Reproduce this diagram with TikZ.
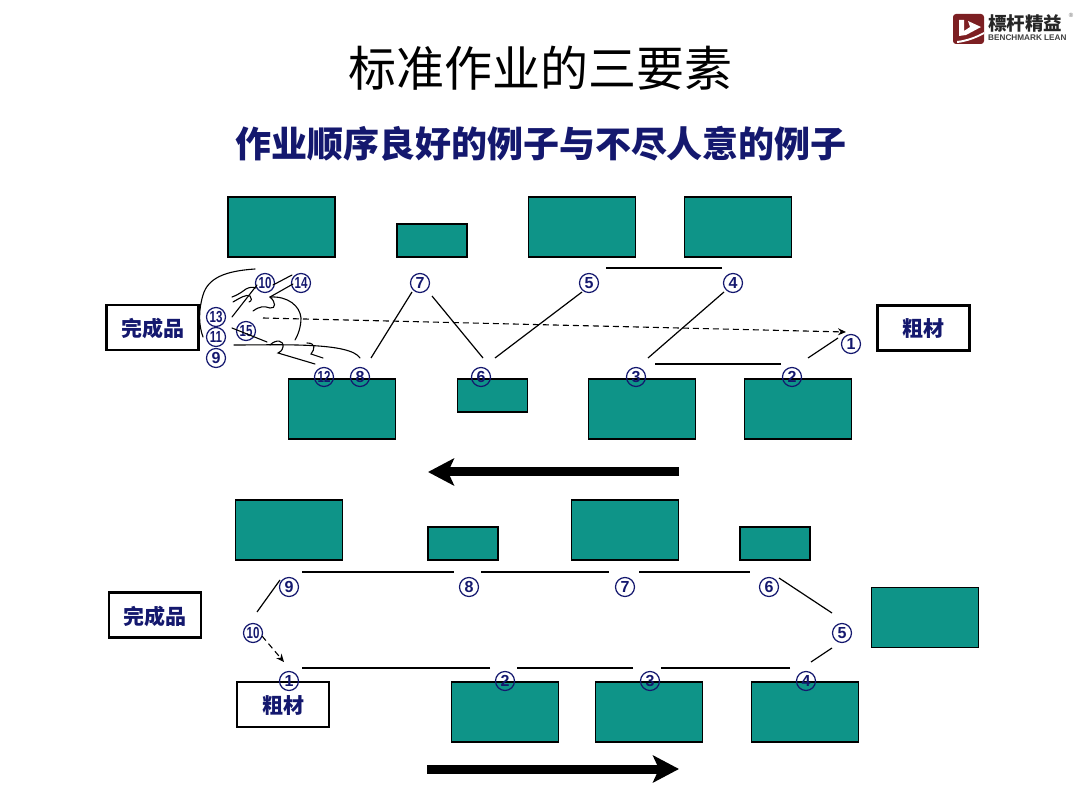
\documentclass[tikz,border=0pt]{standalone}
\usepackage{fontspec}
\setmainfont{Liberation Sans}
\newfontfamily\cjk{Noto Sans CJK SC}
\usetikzlibrary{arrows.meta}
\definecolor{tealbox}{HTML}{0E9488}
\definecolor{navyink}{HTML}{14186E}
\definecolor{logored}{HTML}{7C1F22}
\tikzset{
 bigbox/.style={draw=black,line width=1.5pt,fill=tealbox,minimum width=107pt,minimum height=60pt,inner sep=0pt},
 smallbox/.style={draw=black,line width=1.5pt,fill=tealbox,minimum width=70pt,minimum height=33pt,inner sep=0pt},
 label box/.style={draw=black,line width=2.2pt,fill=white,minimum width=92pt,minimum height=45pt,inner sep=0pt,text=navyink,font=\cjk\bfseries\fontsize{21}{23}\selectfont},
 num/.style={circle,draw=navyink,line width=1.2pt,minimum size=19pt,inner sep=0pt,text=navyink,font=\bfseries\fontsize{16}{16}\selectfont},
 ln/.style={draw=black,line width=1.2pt},
 scrib/.style={draw=black,line width=1.1pt,line cap=round},
 dasharrow/.style={draw=black,line width=1.1pt,dash pattern=on 6pt off 4pt,-{Stealth[length=8pt,width=7pt]}},
 bigarrow/.style={draw=black,line width=9pt,-{Stealth[length=26pt,width=27pt,inset=6pt]}},
}
\newcommand\twod[1]{\scalebox{0.72}[1]{#1}}
\newcommand\cnx[4]{\draw[ln] ([shift={(#2)}]#1.center) -- ([shift={(#4)}]#3.center);}
\begin{document}
\begin{tikzpicture}[x=1pt,y=-1pt]
\useasboundingbox (0,0) rectangle (1080,810);
% title
\node (title) at (540,68) {\cjk\fontsize{48}{50}\selectfont 标准作业的三要素};
\node[text=navyink] (subtitle) at (541,144) {\cjk\bfseries\fontsize{36}{38}\selectfont 作业顺序良好的例子与不尽人意的例子};
% logo
\fill[logored,rounded corners=3pt] (953,14) rectangle (984,44);
\fill[white] (959,20) -- (964,20) -- (964,31) -- (970,27) -- (968,21) -- (981,27) -- (966,35) -- (959,36) -- cycle;
\fill[white] (957,41) .. controls (966,40) and (975,37) .. (984,32) -- (984,34) .. controls (975,39) and (966,42) .. (957,43) -- cycle;
\node[anchor=west,inner sep=0pt,text=black!85] (logoa) at (988,23) {\cjk\bfseries\fontsize{18.5}{19}\selectfont 標杆精益};
\node[anchor=west,inner sep=0pt,text=black!75] (logob) at (988,38) {\bfseries\fontsize{8.2}{8}\selectfont BENCHMARK LEAN};
\node[inner sep=0pt,text=black!60] (logoc) at (1071,15) {\fontsize{6}{6}\selectfont ®};
% upper layout
\node[bigbox] (ua) at (281.5,227) {};
\node[smallbox] (ub) at (432,240.5) {};
\node[bigbox] (uc) at (582,227) {};
\node[bigbox] (ud) at (738,227) {};
\node[bigbox] (ue) at (342,409) {};
\node[smallbox] (uf) at (492.5,395.5) {};
\node[bigbox] (ug) at (642,409) {};
\node[bigbox] (uh) at (798,409) {};
\node[label box,text depth=-8pt] (done) at (152.5,327.5) {完成品};
\node[label box,text depth=-8pt] (raw) at (923.5,328) {粗材};
\node[num] (a1) at (851,344) {1};
\node[num] (a2) at (792,377) {2};
\node[num] (a3) at (636,377) {3};
\node[num] (a4) at (733,283) {4};
\node[num] (a5) at (589,283) {5};
\node[num] (a6) at (481,377) {6};
\node[num] (a7) at (420,283) {7};
\node[num] (a8) at (360,377) {8};
\node[num] (a9) at (216,358) {9};
\node[num] (a10) at (265,283) {\twod{10}};
\node[num] (a11) at (216,337) {\twod{11}};
\node[num] (a12) at (324,377) {\twod{12}};
\node[num] (a13) at (216,317) {\twod{13}};
\node[num] (a14) at (301,283) {\twod{14}};
\node[num] (a15) at (246,331) {\twod{15}};
\cnx{a1}{-13,-6}{a2}{16,-19}
\cnx{a2}{-11,-13}{a3}{19,-13}
\cnx{a3}{12,-19}{a4}{-9,9}
\cnx{a4}{-11,-15}{a5}{17,-15}
\cnx{a5}{-7,9}{a6}{14,-19}
\cnx{a6}{2,-19}{a7}{12,13}
\cnx{a7}{-8,9}{a8}{11,-19}
% scribbles between the late steps
\draw[scrib] (255,269) .. controls (225,271) and (208,278) .. (203,295) .. controls (198,312) and (199,326) .. (203,337);
\draw[scrib] (232,317) -- (257,285);
\draw[scrib] (273,285) -- (292,275);
\draw[scrib] (232,297) .. controls (240,294) and (243,291) .. (246,289) .. controls (250,287) and (252,287) .. (256,288);
\draw[scrib] (233,302) .. controls (240,298) and (246,294) .. (250,296) .. controls (252,298) and (252,301) .. (249,302);
\draw[scrib] (270,297) -- (293,284);
\draw[scrib] (253,311) .. controls (260,306) and (264,306) .. (270,308) .. controls (276,309) and (276,302) .. (270,297);
\draw[scrib] (270,297) .. controls (288,296) and (300,306) .. (301,318) .. controls (301,327) and (298,335) .. (295,340);
\draw[scrib] (232,328) -- (267,342);
\draw[scrib] (234,345) .. controls (280,345) and (350,342) .. (360,358);
\draw[scrib] (270,345) .. controls (276,339) and (284,340) .. (283,347) .. controls (282,351) and (280,352) .. (278,353) -- (315,364);
\draw[scrib] (307,343) .. controls (316,343) and (315,349) .. (311,354) -- (323,358);
\coordinate (dashstart) at (263,318);
\coordinate (dashend) at (846,332);
\draw[dasharrow] (dashstart) -- (dashend);
\coordinate (arrowa) at (679,472);
\coordinate (arrowb) at (428,472);
\draw[bigarrow] (arrowa) -- (arrowb);
% lower layout
\node[bigbox] (la) at (289,530) {};
\node[smallbox] (lb) at (463,543.5) {};
\node[bigbox] (lc) at (625,530) {};
\node[smallbox] (ld) at (775,543.5) {};
\node[bigbox] (le) at (925,617.5) {};
\node[bigbox] (lf) at (505,712) {};
\node[bigbox] (lg) at (649,712) {};
\node[bigbox] (lh) at (805,712) {};
\node[label box,text depth=-8pt] (done2) at (155,615) {完成品};
\node[label box,text depth=-8pt] (raw2) at (283,704.5) {粗材};
\node[num] (b1) at (289,681) {1};
\node[num] (b2) at (505,681) {2};
\node[num] (b3) at (650,681) {3};
\node[num] (b4) at (806,681) {4};
\node[num] (b5) at (842,633) {5};
\node[num] (b6) at (769,587) {6};
\node[num] (b7) at (625,587) {7};
\node[num] (b8) at (469,587) {8};
\node[num] (b9) at (289,587) {9};
\node[num] (b10) at (253,633) {\twod{10}};
\cnx{b9}{13,-15}{b8}{-15,-15}
\cnx{b8}{12,-15}{b7}{-16,-15}
\cnx{b7}{14,-15}{b6}{-19,-15}
\cnx{b6}{10,-9}{b5}{-10,-20}
\cnx{b5}{-10,15}{b4}{5,-19}
\cnx{b4}{-16,-13}{b3}{11,-13}
\cnx{b3}{-17,-13}{b2}{12,-13}
\cnx{b2}{-15,-13}{b1}{13,-13}
\cnx{b9}{-9,-7}{b10}{4,-21}
\draw[dasharrow] ([shift={(9,3)}]b10.center) -- ([shift={(-5,-19)}]b1.center);
\coordinate (arrowc) at (427,769);
\coordinate (arrowd) at (679,769);
\draw[bigarrow] (arrowc) -- (arrowd);
\end{tikzpicture}
\end{document}
